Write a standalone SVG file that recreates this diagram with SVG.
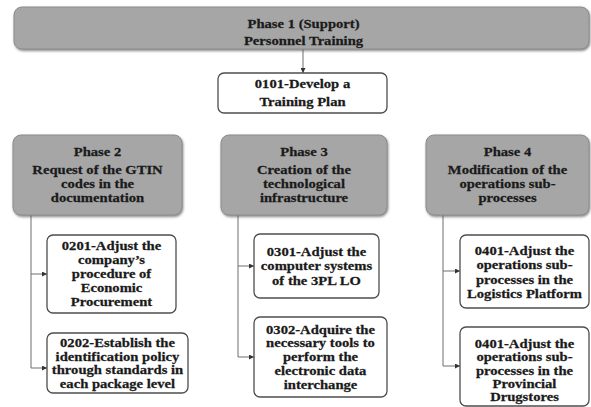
<svg xmlns="http://www.w3.org/2000/svg" width="591" height="407" viewBox="0 0 591 407">
  <defs>
    <filter id="shadow" x="-5%" y="-10%" width="110%" height="130%">
      <feDropShadow dx="0.8" dy="1.5" stdDeviation="0.9" flood-color="#555" flood-opacity="0.7"/>
    </filter>
    <marker id="arrow" viewBox="0 0 6 6" refX="6" refY="3" markerWidth="5" markerHeight="5" markerUnits="userSpaceOnUse" orient="auto">
      <path d="M0,0 L6,3 L0,6 z" fill="#333"/>
    </marker>
    <style>
      .phase { fill: #a6a6a6; stroke: #8c8c8c; stroke-width: 1; filter: url(#shadow); }
      .task { fill: #ffffff; stroke: #4d4d4d; stroke-width: 1.3; }
      .lbl { font-family: "Liberation Serif", "Times New Roman", serif; font-weight: bold; font-size: 12.5px; fill: #1a1a1a; stroke: #1a1a1a; stroke-width: 0.25; text-anchor: middle; }
      .conn { fill: none; stroke: #6e6e6e; stroke-width: 1; marker-end: url(#arrow); }
    </style>
  </defs>

  <!-- connectors -->
  <g id="connectors">
    <path class="conn" d="M303,49 V73"/>
    <path class="conn" d="M31,215 V274 H47"/>
    <path class="conn" d="M31,274 V368 H47"/>
    <path class="conn" d="M238,215 V266 H254"/>
    <path class="conn" d="M238,266 V357 H254"/>
    <path class="conn" d="M443,215 V271 H460"/>
    <path class="conn" d="M443,271 V366 H460"/>
  </g>

  <!-- phase 1: support -->
  <g id="phase1">
    <rect class="phase" x="14" y="7" width="575" height="42" rx="8"/>
    <g transform="translate(303.5 0) scale(1.17 1)">
      <text class="lbl" x="0" y="28">Phase 1 (Support)</text>
      <text class="lbl" x="0" y="45.5">Personnel Training</text>
    </g>
  </g>
  <g id="t0101">
    <rect class="task" x="218" y="73" width="169" height="40" rx="6"/>
    <g transform="translate(302.5 0) scale(1.17 1)">
      <text class="lbl" x="0" y="88.5">0101-Develop a</text>
      <text class="lbl" x="0" y="106.5">Training Plan</text>
    </g>
  </g>

  <!-- phase 2 -->
  <g id="phase2">
    <rect class="phase" x="13" y="135" width="169" height="80" rx="8"/>
    <g transform="translate(97.5 0) scale(1.17 1)">
      <text class="lbl" x="0" y="156">Phase 2</text>
      <text class="lbl" x="0" y="174.5">Request of the GTIN</text>
      <text class="lbl" x="0" y="188.5">codes in the</text>
      <text class="lbl" x="0" y="202.5">documentation</text>
    </g>
  </g>
  <g id="t0201">
    <rect class="task" x="47" y="235" width="129" height="78" rx="6"/>
    <g transform="translate(111.5 0) scale(1.17 1)">
      <text class="lbl" x="0" y="250">0201-Adjust the</text>
      <text class="lbl" x="0" y="264">company’s</text>
      <text class="lbl" x="0" y="278">procedure of</text>
      <text class="lbl" x="0" y="292">Economic</text>
      <text class="lbl" x="0" y="306">Procurement</text>
    </g>
  </g>
  <g id="t0202">
    <rect class="task" x="47" y="333" width="141" height="60" rx="6"/>
    <g transform="translate(117.5 0) scale(1.17 1)">
      <text class="lbl" x="0" y="347.5">0202-Establish the</text>
      <text class="lbl" x="0" y="361">identification policy</text>
      <text class="lbl" x="0" y="374.5">through standards in</text>
      <text class="lbl" x="0" y="388">each package level</text>
    </g>
  </g>

  <!-- phase 3 -->
  <g id="phase3">
    <rect class="phase" x="221" y="135" width="166" height="80" rx="8"/>
    <g transform="translate(304 0) scale(1.17 1)">
      <text class="lbl" x="0" y="156">Phase 3</text>
      <text class="lbl" x="0" y="174.5">Creation of the</text>
      <text class="lbl" x="0" y="188.5">technological</text>
      <text class="lbl" x="0" y="202.5">infrastructure</text>
    </g>
  </g>
  <g id="t0301">
    <rect class="task" x="254" y="234" width="125" height="64" rx="6"/>
    <g transform="translate(316.5 0) scale(1.17 1)">
      <text class="lbl" x="0" y="256">0301-Adjust the</text>
      <text class="lbl" x="0" y="270.5">computer systems</text>
      <text class="lbl" x="0" y="285">of the 3PL LO</text>
    </g>
  </g>
  <g id="t0302">
    <rect class="task" x="254" y="317" width="133" height="80" rx="6"/>
    <g transform="translate(320.5 0) scale(1.17 1)">
      <text class="lbl" x="0" y="334">0302-Adquire the</text>
      <text class="lbl" x="0" y="347.5">necessary tools to</text>
      <text class="lbl" x="0" y="361.5">perform the</text>
      <text class="lbl" x="0" y="375.5">electronic data</text>
      <text class="lbl" x="0" y="389">interchange</text>
    </g>
  </g>

  <!-- phase 4 -->
  <g id="phase4">
    <rect class="phase" x="426" y="135" width="163" height="80" rx="8"/>
    <g transform="translate(507.5 0) scale(1.17 1)">
      <text class="lbl" x="0" y="156">Phase 4</text>
      <text class="lbl" x="0" y="174.5">Modification of the</text>
      <text class="lbl" x="0" y="188.5">operations sub-</text>
      <text class="lbl" x="0" y="202.5">processes</text>
    </g>
  </g>
  <g id="t0401a">
    <rect class="task" x="460" y="235" width="129" height="73" rx="6"/>
    <g transform="translate(524.5 0) scale(1.17 1)">
      <text class="lbl" x="0" y="255">0401-Adjust the</text>
      <text class="lbl" x="0" y="269.5">operations sub-</text>
      <text class="lbl" x="0" y="284">processes in the</text>
      <text class="lbl" x="0" y="298.5">Logistics Platform</text>
    </g>
  </g>
  <g id="t0401b">
    <rect class="task" x="460" y="327" width="129" height="79" rx="6"/>
    <g transform="translate(524.5 0) scale(1.17 1)">
      <text class="lbl" x="0" y="348">0401-Adjust the</text>
      <text class="lbl" x="0" y="361.5">operations sub-</text>
      <text class="lbl" x="0" y="375">processes in the</text>
      <text class="lbl" x="0" y="388">Provincial</text>
      <text class="lbl" x="0" y="401">Drugstores</text>
    </g>
  </g>
</svg>
